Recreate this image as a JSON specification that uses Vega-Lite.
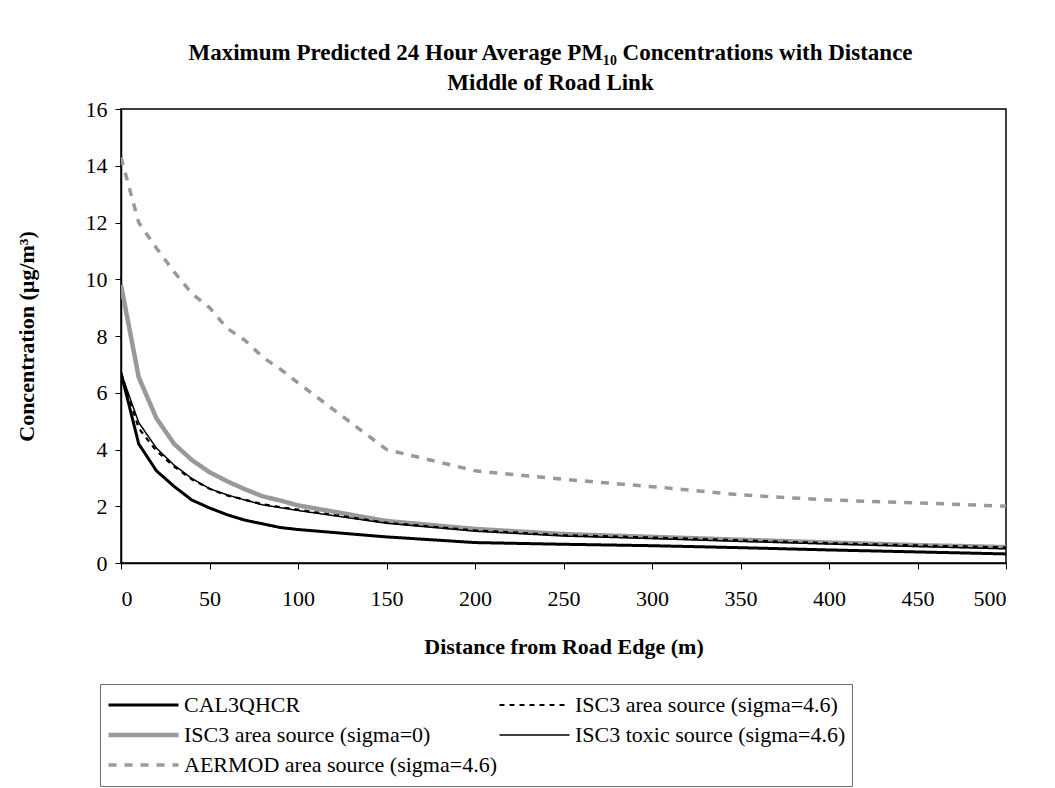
{
  "$schema": "https://vega.github.io/schema/vega-lite/v6.json",
  "autosize": {"type": "none"},
  "width": 885,
  "height": 454,
  "padding": {"left": 121, "top": 109, "right": 49, "bottom": 225},
  "background": "white",
  "title": {
    "text": ["Maximum Predicted 24 Hour Average PM₁₀ Concentrations with Distance", "Middle of Road Link"],
    "font": "Liberation Serif",
    "fontSize": 23,
    "fontWeight": "bold",
    "color": "black",
    "lineHeight": 30,
    "anchor": "middle",
    "dx": -13,
    "offset": 3
  },
  "data": {
    "values": [
      {"d": 0, "s": "AERMOD area source (sigma=4.6)", "c": 14.3},
      {"d": 10, "s": "AERMOD area source (sigma=4.6)", "c": 12.0},
      {"d": 20, "s": "AERMOD area source (sigma=4.6)", "c": 11.1},
      {"d": 30, "s": "AERMOD area source (sigma=4.6)", "c": 10.26},
      {"d": 40, "s": "AERMOD area source (sigma=4.6)", "c": 9.5},
      {"d": 50, "s": "AERMOD area source (sigma=4.6)", "c": 9.0},
      {"d": 60, "s": "AERMOD area source (sigma=4.6)", "c": 8.27},
      {"d": 70, "s": "AERMOD area source (sigma=4.6)", "c": 7.85},
      {"d": 80, "s": "AERMOD area source (sigma=4.6)", "c": 7.26},
      {"d": 90, "s": "AERMOD area source (sigma=4.6)", "c": 6.83},
      {"d": 100, "s": "AERMOD area source (sigma=4.6)", "c": 6.35},
      {"d": 150, "s": "AERMOD area source (sigma=4.6)", "c": 4.0},
      {"d": 200, "s": "AERMOD area source (sigma=4.6)", "c": 3.25},
      {"d": 250, "s": "AERMOD area source (sigma=4.6)", "c": 2.95},
      {"d": 300, "s": "AERMOD area source (sigma=4.6)", "c": 2.69},
      {"d": 350, "s": "AERMOD area source (sigma=4.6)", "c": 2.4},
      {"d": 400, "s": "AERMOD area source (sigma=4.6)", "c": 2.22},
      {"d": 450, "s": "AERMOD area source (sigma=4.6)", "c": 2.12},
      {"d": 500, "s": "AERMOD area source (sigma=4.6)", "c": 2.0},

      {"d": 0, "s": "ISC3 area source (sigma=0)", "c": 9.8},
      {"d": 10, "s": "ISC3 area source (sigma=0)", "c": 6.55},
      {"d": 20, "s": "ISC3 area source (sigma=0)", "c": 5.1},
      {"d": 30, "s": "ISC3 area source (sigma=0)", "c": 4.2},
      {"d": 40, "s": "ISC3 area source (sigma=0)", "c": 3.63},
      {"d": 50, "s": "ISC3 area source (sigma=0)", "c": 3.2},
      {"d": 60, "s": "ISC3 area source (sigma=0)", "c": 2.88},
      {"d": 70, "s": "ISC3 area source (sigma=0)", "c": 2.6},
      {"d": 80, "s": "ISC3 area source (sigma=0)", "c": 2.35},
      {"d": 90, "s": "ISC3 area source (sigma=0)", "c": 2.2},
      {"d": 100, "s": "ISC3 area source (sigma=0)", "c": 2.03},
      {"d": 150, "s": "ISC3 area source (sigma=0)", "c": 1.48},
      {"d": 200, "s": "ISC3 area source (sigma=0)", "c": 1.2},
      {"d": 250, "s": "ISC3 area source (sigma=0)", "c": 1.02},
      {"d": 300, "s": "ISC3 area source (sigma=0)", "c": 0.92},
      {"d": 350, "s": "ISC3 area source (sigma=0)", "c": 0.82},
      {"d": 400, "s": "ISC3 area source (sigma=0)", "c": 0.72},
      {"d": 450, "s": "ISC3 area source (sigma=0)", "c": 0.63},
      {"d": 500, "s": "ISC3 area source (sigma=0)", "c": 0.56},

      {"d": 0, "s": "CAL3QHCR", "c": 6.7},
      {"d": 10, "s": "CAL3QHCR", "c": 4.2},
      {"d": 20, "s": "CAL3QHCR", "c": 3.25},
      {"d": 30, "s": "CAL3QHCR", "c": 2.7},
      {"d": 40, "s": "CAL3QHCR", "c": 2.22},
      {"d": 50, "s": "CAL3QHCR", "c": 1.94},
      {"d": 60, "s": "CAL3QHCR", "c": 1.7},
      {"d": 70, "s": "CAL3QHCR", "c": 1.51},
      {"d": 80, "s": "CAL3QHCR", "c": 1.38},
      {"d": 90, "s": "CAL3QHCR", "c": 1.25},
      {"d": 100, "s": "CAL3QHCR", "c": 1.18},
      {"d": 150, "s": "CAL3QHCR", "c": 0.92},
      {"d": 200, "s": "CAL3QHCR", "c": 0.72},
      {"d": 250, "s": "CAL3QHCR", "c": 0.66},
      {"d": 300, "s": "CAL3QHCR", "c": 0.61},
      {"d": 350, "s": "CAL3QHCR", "c": 0.54},
      {"d": 400, "s": "CAL3QHCR", "c": 0.46},
      {"d": 450, "s": "CAL3QHCR", "c": 0.39},
      {"d": 500, "s": "CAL3QHCR", "c": 0.32},

      {"d": 0, "s": "ISC3 area source (sigma=4.6)", "c": 6.7},
      {"d": 10, "s": "ISC3 area source (sigma=4.6)", "c": 4.75},
      {"d": 20, "s": "ISC3 area source (sigma=4.6)", "c": 3.95},
      {"d": 30, "s": "ISC3 area source (sigma=4.6)", "c": 3.4},
      {"d": 40, "s": "ISC3 area source (sigma=4.6)", "c": 2.95},
      {"d": 50, "s": "ISC3 area source (sigma=4.6)", "c": 2.62},
      {"d": 60, "s": "ISC3 area source (sigma=4.6)", "c": 2.38},
      {"d": 70, "s": "ISC3 area source (sigma=4.6)", "c": 2.23},
      {"d": 80, "s": "ISC3 area source (sigma=4.6)", "c": 2.07},
      {"d": 90, "s": "ISC3 area source (sigma=4.6)", "c": 1.97},
      {"d": 100, "s": "ISC3 area source (sigma=4.6)", "c": 1.88},
      {"d": 150, "s": "ISC3 area source (sigma=4.6)", "c": 1.42},
      {"d": 200, "s": "ISC3 area source (sigma=4.6)", "c": 1.15},
      {"d": 250, "s": "ISC3 area source (sigma=4.6)", "c": 0.98},
      {"d": 300, "s": "ISC3 area source (sigma=4.6)", "c": 0.9},
      {"d": 350, "s": "ISC3 area source (sigma=4.6)", "c": 0.8},
      {"d": 400, "s": "ISC3 area source (sigma=4.6)", "c": 0.7},
      {"d": 450, "s": "ISC3 area source (sigma=4.6)", "c": 0.62},
      {"d": 500, "s": "ISC3 area source (sigma=4.6)", "c": 0.55},

      {"d": 0, "s": "ISC3 toxic source (sigma=4.6)", "c": 6.7},
      {"d": 10, "s": "ISC3 toxic source (sigma=4.6)", "c": 4.95},
      {"d": 20, "s": "ISC3 toxic source (sigma=4.6)", "c": 4.05},
      {"d": 30, "s": "ISC3 toxic source (sigma=4.6)", "c": 3.45},
      {"d": 40, "s": "ISC3 toxic source (sigma=4.6)", "c": 2.98},
      {"d": 50, "s": "ISC3 toxic source (sigma=4.6)", "c": 2.62},
      {"d": 60, "s": "ISC3 toxic source (sigma=4.6)", "c": 2.4},
      {"d": 70, "s": "ISC3 toxic source (sigma=4.6)", "c": 2.22},
      {"d": 80, "s": "ISC3 toxic source (sigma=4.6)", "c": 2.05},
      {"d": 90, "s": "ISC3 toxic source (sigma=4.6)", "c": 1.95},
      {"d": 100, "s": "ISC3 toxic source (sigma=4.6)", "c": 1.85},
      {"d": 150, "s": "ISC3 toxic source (sigma=4.6)", "c": 1.4},
      {"d": 200, "s": "ISC3 toxic source (sigma=4.6)", "c": 1.12},
      {"d": 250, "s": "ISC3 toxic source (sigma=4.6)", "c": 0.95},
      {"d": 300, "s": "ISC3 toxic source (sigma=4.6)", "c": 0.86},
      {"d": 350, "s": "ISC3 toxic source (sigma=4.6)", "c": 0.76},
      {"d": 400, "s": "ISC3 toxic source (sigma=4.6)", "c": 0.67},
      {"d": 450, "s": "ISC3 toxic source (sigma=4.6)", "c": 0.58},
      {"d": 500, "s": "ISC3 toxic source (sigma=4.6)", "c": 0.5}
    ]
  },
  "mark": {"type": "line", "interpolate": "linear", "clip": true},
  "encoding": {
    "x": {
      "field": "d",
      "type": "quantitative",
      "scale": {"domain": [0, 500], "nice": false},
      "axis": {
        "title": "Distance from Road Edge (m)",
        "values": [0, 50, 100, 150, 200, 250, 300, 350, 400, 450, 500],
        "grid": false,
        "labelPadding": 19,
        "titlePadding": 27
      }
    },
    "y": {
      "field": "c",
      "type": "quantitative",
      "scale": {"domain": [0, 16], "nice": false},
      "axis": {
        "title": "Concentration (µg/m³)",
        "values": [0, 2, 4, 6, 8, 10, 12, 14, 16],
        "grid": false,
        "labelPadding": 8,
        "titlePadding": 47
      }
    },
    "color": {
      "field": "s",
      "type": "nominal",
      "scale": {
        "domain": ["CAL3QHCR", "ISC3 area source (sigma=0)", "AERMOD area source (sigma=4.6)", "ISC3 area source (sigma=4.6)", "ISC3 toxic source (sigma=4.6)"],
        "range": ["#000000", "#999999", "#999999", "#000000", "#000000"]
      },
      "legend": {
        "title": null,
        "orient": "none",
        "legendX": -21,
        "legendY": 575,
        "columns": 2,
        "columnPadding": 0,
        "rowPadding": 0,
        "clipHeight": 30,
        "symbolType": "stroke",
        "symbolSize": 4900,
        "labelFont": "Liberation Serif",
        "labelFontSize": 22,
        "labelColor": "black",
        "labelOffset": 3,
        "labelLimit": 400,
        "strokeColor": "#707070",
        "padding": 6
      }
    },
    "strokeDash": {
      "field": "s",
      "type": "nominal",
      "scale": {
        "domain": ["CAL3QHCR", "ISC3 area source (sigma=0)", "AERMOD area source (sigma=4.6)", "ISC3 area source (sigma=4.6)", "ISC3 toxic source (sigma=4.6)"],
        "range": [[1, 0], [1, 0], [8, 8], [5, 5], [1, 0]]
      }
    },
    "strokeWidth": {
      "field": "s",
      "type": "nominal",
      "scale": {
        "type": "ordinal",
        "domain": ["CAL3QHCR", "ISC3 area source (sigma=0)", "AERMOD area source (sigma=4.6)", "ISC3 area source (sigma=4.6)", "ISC3 toxic source (sigma=4.6)"],
        "range": [3, 4.5, 3.5, 2.2, 1.5]
      }
    }
  },
  "config": {
    "font": "Liberation Serif",
    "view": {"stroke": "black", "strokeWidth": 1.5},
    "axis": {
      "domainColor": "black",
      "domainWidth": 1.5,
      "tickColor": "black",
      "tickSize": 6,
      "labelFont": "Liberation Serif",
      "labelFontSize": 22,
      "labelColor": "black",
      "titleFont": "Liberation Serif",
      "titleFontSize": 22,
      "titleFontWeight": "bold",
      "titleColor": "black"
    }
  }
}
